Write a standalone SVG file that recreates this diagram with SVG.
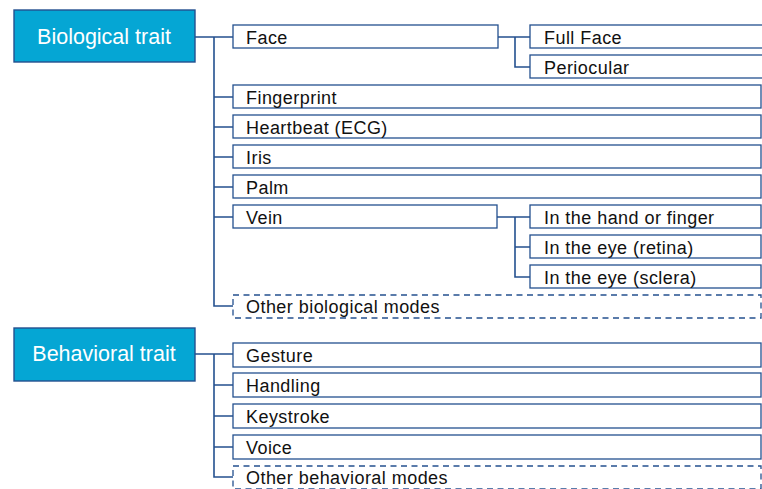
<svg xmlns="http://www.w3.org/2000/svg" width="762" height="489" viewBox="0 0 762 489">
  <style>
    .trait { fill: #05a6d4; stroke: #24508f; stroke-width: 1.4; }
    .trait-label { font-family: "Liberation Sans", Arial, sans-serif; font-size: 21.5px; fill: #ffffff; text-anchor: middle; }
    .box { fill: #ffffff; stroke: #24508f; stroke-width: 1.3; }
    .dashed { fill: #ffffff; stroke: #24508f; stroke-width: 1.3; stroke-dasharray: 6 4.5; }
    .label { font-family: "Liberation Sans", Arial, sans-serif; font-size: 18px; letter-spacing: 0.45px; fill: #111111; }
    .wire { fill: none; stroke: #24508f; stroke-width: 1.6; }
  </style>
  <rect width="762" height="489" fill="#ffffff"/>

  <!-- connectors -->
  <g id="connectors">
    <!-- biological tree -->
    <path class="wire" d="M195 37 H233 M214 37 V306 H233 M214 97 H233 M214 127 H233 M214 157 H233 M214 187 H233 M214 217 H233"/>
    <!-- face sub-branches -->
    <path class="wire" d="M498 37 H530 M515 37 V67 H530"/>
    <!-- vein sub-branches -->
    <path class="wire" d="M497 217 H530 M515 217 V277 H530 M515 247 H530"/>
    <!-- behavioral tree -->
    <path class="wire" d="M195 354 H233 M214 354 V477 H233 M214 385 H233 M214 416 H233 M214 447 H233"/>
  </g>

  <!-- root nodes -->
  <g id="biological-trait">
    <rect class="trait" x="14" y="10" width="181" height="52"/>
    <text class="trait-label" x="104" y="44">Biological trait</text>
  </g>
  <g id="behavioral-trait">
    <rect class="trait" x="14" y="328" width="181" height="53"/>
    <text class="trait-label" x="104" y="361">Behavioral trait</text>
  </g>

  <!-- biological modes -->
  <g id="face">
    <rect class="box" x="233" y="25" width="265" height="23"/>
    <text class="label" x="246" y="43.5">Face</text>
  </g>
  <g id="full-face">
    <rect class="box" x="530" y="25" width="240" height="23"/>
    <text class="label" x="544" y="43.5">Full Face</text>
  </g>
  <g id="periocular">
    <rect class="box" x="530" y="55" width="240" height="23"/>
    <text class="label" x="544" y="73.5">Periocular</text>
  </g>
  <g id="fingerprint">
    <rect class="box" x="233" y="85" width="528" height="23"/>
    <text class="label" x="246" y="103.5">Fingerprint</text>
  </g>
  <g id="heartbeat">
    <rect class="box" x="233" y="115" width="528" height="23"/>
    <text class="label" x="246" y="133.5">Heartbeat (ECG)</text>
  </g>
  <g id="iris">
    <rect class="box" x="233" y="145" width="528" height="23"/>
    <text class="label" x="246" y="163.5">Iris</text>
  </g>
  <g id="palm">
    <rect class="box" x="233" y="175" width="528" height="23"/>
    <text class="label" x="246" y="193.5">Palm</text>
  </g>
  <g id="vein">
    <rect class="box" x="233" y="205" width="264" height="23"/>
    <text class="label" x="246" y="223.5">Vein</text>
  </g>
  <g id="vein-hand">
    <rect class="box" x="530" y="205" width="231" height="23"/>
    <text class="label" x="544" y="223.5">In the hand or finger</text>
  </g>
  <g id="vein-retina">
    <rect class="box" x="530" y="235" width="231" height="23"/>
    <text class="label" x="544" y="253.5">In the eye (retina)</text>
  </g>
  <g id="vein-sclera">
    <rect class="box" x="530" y="265" width="231" height="23"/>
    <text class="label" x="544" y="283.5">In the eye (sclera)</text>
  </g>
  <g id="other-biological">
    <rect class="dashed" x="233" y="295" width="528" height="23"/>
    <text class="label" x="246" y="313">Other biological modes</text>
  </g>

  <!-- behavioral modes -->
  <g id="gesture">
    <rect class="box" x="233" y="343" width="528" height="24"/>
    <text class="label" x="246" y="361.5">Gesture</text>
  </g>
  <g id="handling">
    <rect class="box" x="233" y="373" width="528" height="24"/>
    <text class="label" x="246" y="391.5">Handling</text>
  </g>
  <g id="keystroke">
    <rect class="box" x="233" y="404" width="528" height="24"/>
    <text class="label" x="246" y="422.5">Keystroke</text>
  </g>
  <g id="voice">
    <rect class="box" x="233" y="435" width="528" height="24"/>
    <text class="label" x="246" y="453.5">Voice</text>
  </g>
  <g id="other-behavioral">
    <rect class="dashed" x="233" y="466" width="528" height="23"/>
    <text class="label" x="246" y="484">Other behavioral modes</text>
  </g>
</svg>
